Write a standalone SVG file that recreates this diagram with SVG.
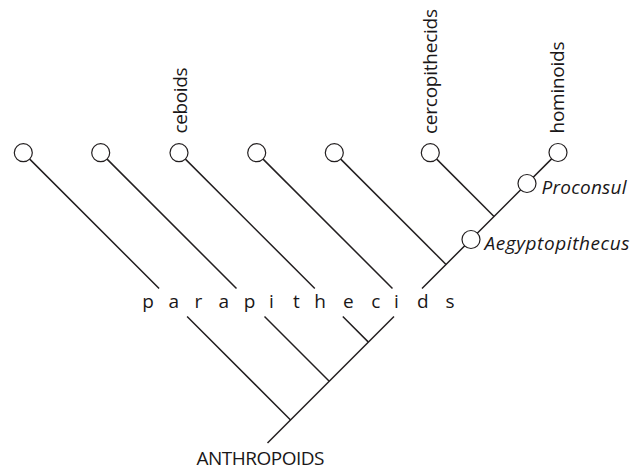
<svg xmlns="http://www.w3.org/2000/svg" width="639" height="470" viewBox="0 0 639 470">
  <style>
    .edge { fill: none; stroke: #231f20; stroke-width: 1.5; stroke-linecap: butt; }
    .taxon { fill: #ffffff; stroke: #231f20; stroke-width: 1.2; }
    .lbl { font-family: "Open Sans", "Noto Sans", "Liberation Sans", sans-serif; font-size: 19px; fill: #1a1718; }
    .it { font-style: italic; }
  </style>
  <rect width="639" height="470" fill="#ffffff"/>

  <!-- branches; the band y 288.5..316.5 is left open for the spaced group label -->
  <g id="connectors">
    <path class="edge" d="M29.7 159.1 L159.1 288.5 M187.1 316.5 L290.55 419.95"/>
    <path class="edge" d="M107.1 159.1 L236.5 288.5 M264.5 316.5 L329.25 381.25"/>
    <path class="edge" d="M185.4 159.1 L314.8 288.5 M342.8 316.5 L368.4 342.1"/>
    <path class="edge" d="M263.1 159.1 L392.5 288.5"/>
    <path class="edge" d="M340.7 159.1 L446.05 264.45"/>
    <path class="edge" d="M436.7 159.1 L494.05 216.45"/>
    <!-- main stem -->
    <path class="edge" d="M267.5 443 L394 316.5 M422 288.5 L551.6 158.9"/>
  </g>

  <g id="node-1"><circle class="taxon" cx="23.3" cy="152.7" r="9"/></g>
  <g id="node-2"><circle class="taxon" cx="100.7" cy="152.7" r="9"/></g>
  <g id="node-ceboids">
    <circle class="taxon" cx="179" cy="152.7" r="9"/>
    <text class="lbl" transform="translate(187,133.5) rotate(-90)" textLength="66" lengthAdjust="spacing">ceboids</text>
  </g>
  <g id="node-4"><circle class="taxon" cx="256.7" cy="152.7" r="9"/></g>
  <g id="node-5"><circle class="taxon" cx="334.3" cy="152.7" r="9"/></g>
  <g id="node-cercopithecids">
    <circle class="taxon" cx="430.3" cy="152.7" r="9"/>
    <text class="lbl" transform="translate(436.5,134) rotate(-90)" textLength="125" lengthAdjust="spacing">cercopithecids</text>
  </g>
  <g id="node-hominoids">
    <circle class="taxon" cx="558" cy="152.5" r="9"/>
    <text class="lbl" transform="translate(563.5,133.5) rotate(-90)" textLength="92" lengthAdjust="spacing">hominoids</text>
  </g>
  <g id="node-proconsul">
    <circle class="taxon" cx="527" cy="183.5" r="9"/>
    <text class="lbl it" x="541.5" y="193.5" textLength="85" lengthAdjust="spacing">Proconsul</text>
  </g>
  <g id="node-aegyptopithecus">
    <circle class="taxon" cx="471" cy="239.5" r="9"/>
    <text class="lbl it" x="484.5" y="250" textLength="145" lengthAdjust="spacing">Aegyptopithecus</text>
  </g>

  <g id="group-parapithecids">
    <text class="lbl" text-anchor="middle" y="307.5"
      x="148 173.7 198.3 223.8 249.5 271.5 296.5 320 348.3 375.8 396.5 422.8 450">parapithecids</text>
  </g>

  <g id="root-anthropoids">
    <text class="lbl" x="196.5" y="465" textLength="128" lengthAdjust="spacing">ANTHROPOIDS</text>
  </g>
</svg>
